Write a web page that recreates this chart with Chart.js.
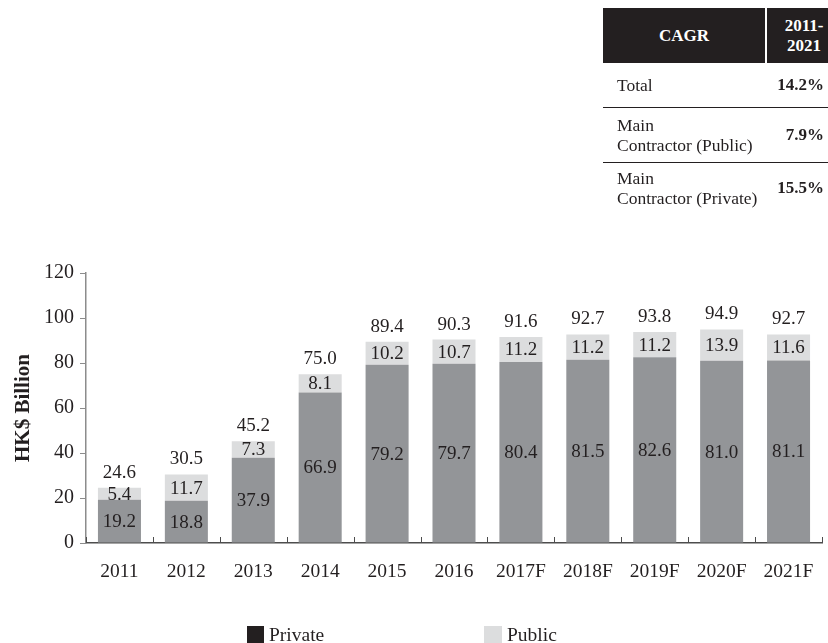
<!DOCTYPE html>
<html>
<head>
<meta charset="utf-8">
<script src="https://cdn.jsdelivr.net/npm/chart.js@4.4.0/dist/chart.umd.min.js"></script>
<style>
  html, body { margin: 0; padding: 0; background: #fff; width: 828px; height: 643px; overflow: hidden; }
  body { position: relative; font-family: 'Liberation Serif', 'Times New Roman', serif; color: #231f20; }
  #chart { position: absolute; left: 0; top: 0; }
  #cagr { position: absolute; left: 603px; top: 8px; width: 240px; font-size: 17.5px; }
  #cagr .head { display: flex; height: 55px; background: #231f20; color: #fff; font-weight: bold; font-size: 17px; }
  #cagr .head .c1 { width: 162px; display: flex; align-items: center; justify-content: center; }
  #cagr .head .c2 { flex: 1; border-left: 2px solid #fff; display: flex; align-items: center; justify-content: center; text-align: center; line-height: 20px; padding-right: 2px; }
  #cagr .row { position: relative; display: flex; align-items: center; box-sizing: border-box; }
  #cagr .row .lab { padding-left: 14px; line-height: 20px; }
  #cagr .row .val { font-weight: bold; font-size: 17px; width: 221px; text-align: right; position: absolute; left: 0; }
  #cagr .r1 { height: 45px; border-bottom: 1.5px solid #231f20; }
  #cagr .r2 { height: 55px; border-bottom: 1.5px solid #231f20; }
  #cagr .r3 { height: 50px; }
  .legend { position: absolute; top: 624px; font-size: 19.5px; line-height: 22px; display: flex; align-items: flex-start; }
  .legend .box { width: 17px; height: 18px; margin-top: 2px; margin-right: 5px; }
</style>
</head>
<body>
<canvas id="chart" width="828" height="643"></canvas>

<div id="cagr">
  <div class="head"><div class="c1">CAGR</div><div class="c2">2011-<br>2021</div></div>
  <div class="row r1"><div class="lab">Total</div><div class="val">14.2%</div></div>
  <div class="row r2"><div class="lab">Main<br>Contractor (Public)</div><div class="val">7.9%</div></div>
  <div class="row r3"><div class="lab">Main<br>Contractor (Private)</div><div class="val">15.5%</div></div>
</div>

<div class="legend" style="left:247px"><div class="box" style="background:#231f20"></div><span>Private</span></div>
<div class="legend" style="left:484px"><div class="box" style="background:#dcddde;width:18px"></div><span>Public</span></div>

<script>
// Construction output by year, HK$ billion
const categories = ['2011', '2012', '2013', '2014', '2015', '2016', '2017F', '2018F', '2019F', '2020F', '2021F'];
const privateValues = [19.2, 18.8, 37.9, 66.9, 79.2, 79.7, 80.4, 81.5, 82.6, 81.0, 81.1];
const publicValues = [5.4, 11.7, 7.3, 8.1, 10.2, 10.7, 11.2, 11.2, 11.2, 13.9, 11.6];
const totalValues = [24.6, 30.5, 45.2, 75.0, 89.4, 90.3, 91.6, 92.7, 93.8, 94.9, 92.7];
const yTickValues = [0, 20, 40, 60, 80, 100, 120];

const INK = '#231f20';
const SERIF = "'Liberation Serif', 'Times New Roman', serif";

// Writes each segment's value at its centre and the stack total above it
const valueLabels = {
  id: 'valueLabels',
  afterDatasetsDraw(chart) {
    const ctx = chart.ctx;
    ctx.save();
    ctx.font = '19px ' + SERIF;
    ctx.fillStyle = INK;
    ctx.textAlign = 'center';
    ctx.textBaseline = 'middle';
    chart.data.datasets.forEach((ds, i) => {
      chart.getDatasetMeta(i).data.forEach((bar, j) => {
        const p = bar.getProps(['x', 'y', 'base'], true);
        ctx.fillText(ds.data[j].toFixed(1), p.x, (p.y + p.base) / 2 + 1);
      });
    });
    const yScale = chart.scales.y;
    const tops = chart.getDatasetMeta(1).data;
    totalValues.forEach((t, j) => {
      ctx.fillText(t.toFixed(1), tops[j].x, yScale.getPixelForValue(t) - 15);
    });
    ctx.restore();
  }
};

// Short upward tick marks on the category boundaries of the x axis
const categoryTicks = {
  id: 'categoryTicks',
  afterDraw(chart) {
    const xs = chart.scales.x;
    const ctx = chart.ctx;
    const n = chart.data.labels.length;
    const half = (xs.getPixelForValue(1) - xs.getPixelForValue(0)) / 2;
    ctx.save();
    ctx.strokeStyle = '#4d4d4d';
    ctx.lineWidth = 1;
    for (let i = 0; i <= n; i++) {
      const x = Math.round(i < n ? xs.getPixelForValue(i) - half : xs.getPixelForValue(n - 1) + half) + 0.5;
      ctx.beginPath();
      ctx.moveTo(x, xs.top);
      ctx.lineTo(x, xs.top - 6);
      ctx.stroke();
    }
    ctx.restore();
  }
};

new Chart(document.getElementById('chart'), {
  type: 'bar',
  data: {
    labels: categories,
    datasets: [
      { label: 'Private', data: privateValues, backgroundColor: '#939598', borderWidth: 0 },
      { label: 'Public', data: publicValues, backgroundColor: '#dcddde', borderWidth: 0 }
    ]
  },
  options: {
    responsive: false,
    animation: false,
    events: [],
    datasets: { bar: { categoryPercentage: 1, barPercentage: 0.643 } },
    layout: { padding: { top: 273, right: 6, bottom: 0, left: 0 } },
    plugins: { legend: { display: false }, tooltip: { enabled: false } },
    scales: {
      x: {
        stacked: true,
        afterFit(s) { s.height = 100; s.paddingLeft = 0; s.paddingRight = 0; },
        grid: { drawOnChartArea: false, drawTicks: false },
        border: { color: '#4d4d4d', width: 1.5 },
        ticks: { color: INK, font: { family: SERIF, size: 19.5 }, padding: 17, autoSkip: false, maxRotation: 0 }
      },
      y: {
        stacked: true,
        min: 0,
        max: 120,
        afterFit(s) { s.width = 86; },
        afterBuildTicks(s) { s.ticks = yTickValues.map(v => ({ value: v })); },
        grid: { drawOnChartArea: false, tickLength: 6, color: '#8c8c8c' },
        border: { color: '#8c8c8c', width: 1.5 },
        ticks: { color: INK, font: { family: SERIF, size: 20 }, padding: 6 },
        title: { display: true, text: 'HK$ Billion', color: INK, font: { family: SERIF, size: 21, weight: 'bold' }, padding: { top: 11, bottom: 0 } }
      }
    }
  },
  plugins: [valueLabels, categoryTicks]
});
</script>
</body>
</html>
